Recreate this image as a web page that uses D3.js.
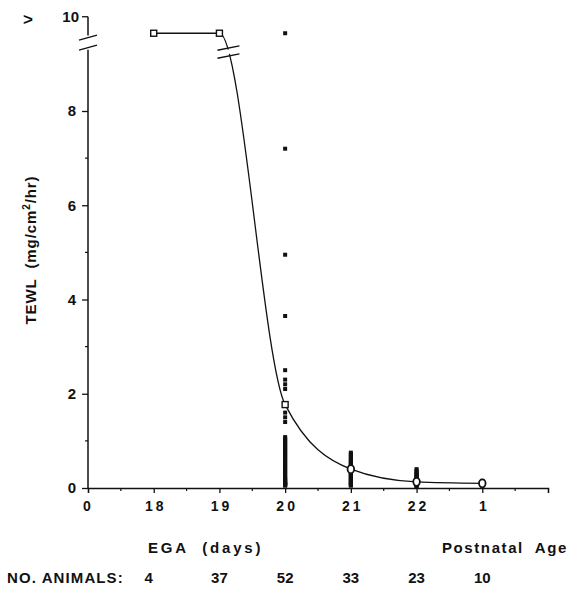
<!DOCTYPE html>
<html>
<head>
<meta charset="utf-8">
<script src="https://cdn.jsdelivr.net/npm/d3@7"></script>
<style>
  html, body { margin: 0; padding: 0; background: #fff; }
  svg { display: block; }
  text { font-family: "Liberation Sans", Arial, Helvetica, sans-serif; fill: #111; }
</style>
</head>
<body>
<div id="chart"></div>
<script>
// ---- data ----
const xTickLabels = ["0", "18", "19", "20", "21", "22", "1"];
const groupLabels = ["18", "19", "20", "21", "22", "1"];
const groupPos = [1, 2, 3, 4, 5, 6];
const meanTEWL = [9.65, 9.65, 1.77, 0.4, 0.13, 0.1];
const meanShape = ["square", "square", "square", "circle", "circle", "circle"];
const nAnimals = ["4", "37", "52", "33", "23", "10"];
const yTicks = [0, 2, 4, 6, 8];
const indiv20 = [9.65, 7.2, 4.95, 3.65, 2.5, 2.3, 2.2, 2.1, 1.6, 1.5, 1.4,
  1.08, 1.05, 1.02, 0.99, 0.96, 0.93, 0.9, 0.87, 0.84, 0.81, 0.78, 0.75, 0.72, 0.69,
  0.66, 0.63, 0.6, 0.57, 0.54, 0.51, 0.48, 0.45, 0.42, 0.39, 0.36, 0.33, 0.3, 0.27,
  0.24, 0.21, 0.19, 0.17, 0.15, 0.13, 0.11, 0.1, 0.09, 0.08, 0.07, 0.06, 0.05];
const indiv21 = [0.75, 0.72, 0.69, 0.66, 0.63, 0.6, 0.57, 0.55, 0.52, 0.5, 0.48,
  0.45, 0.43, 0.41, 0.39, 0.37, 0.35, 0.33, 0.31, 0.29, 0.27, 0.25, 0.23, 0.21,
  0.19, 0.17, 0.15, 0.13, 0.11, 0.09, 0.08, 0.06, 0.05];
const indiv22 = [0.4, 0.37, 0.34, 0.31, 0.29, 0.27, 0.25, 0.23, 0.21, 0.19, 0.17,
  0.16, 0.15, 0.14, 0.13, 0.12, 0.11, 0.1, 0.09, 0.08, 0.06, 0.04, 0.02];
const indivP1 = [0.15, 0.14, 0.13, 0.12, 0.11, 0.1, 0.09, 0.08, 0.07, 0.06];

// ---- layout ----
const W = 571, H = 600;
const svg = d3.select("#chart").append("svg").attr("width", W).attr("height", H);
const x = d3.scaleLinear().domain([0, 7]).range([88, 548]);
const y = d3.scaleLinear().domain([0, 8]).range([488, 111]);

// axes
const xAxis = d3.axisBottom(x).tickValues(d3.range(0, 7.01, 1)).tickSize(5)
  .tickFormat((d) => xTickLabels[d] !== undefined ? xTickLabels[d] : "");
const gx = svg.append("g").attr("transform", `translate(0,${y(0)})`).call(xAxis);
gx.select(".domain").attr("stroke", "#111").attr("stroke-width", 1.3);
gx.selectAll(".tick line").attr("stroke", "#111").attr("stroke-width", 1.3);
gx.selectAll(".tick text").attr("dy", "1.1em").attr("font-size", 14).attr("font-weight", "bold")
  .attr("letter-spacing", "3px").attr("dx", (d) => d === 0 ? 0 : 1.5);
// minor x ticks
svg.append("g").selectAll("line").data(d3.range(0.5, 7, 1)).join("line")
  .attr("x1", (d) => x(d)).attr("x2", (d) => x(d))
  .attr("y1", y(0)).attr("y2", y(0) + 3).attr("stroke", "#111").attr("stroke-width", 1.2);

const yAxis = d3.axisLeft(y).tickValues(yTicks).tickSize(6).tickFormat(d3.format("d"));
const gy = svg.append("g").attr("transform", `translate(${x(0)},0)`).call(yAxis);
gy.select(".domain").remove();
gy.selectAll(".tick line").attr("stroke", "#111").attr("stroke-width", 1.3);
gy.selectAll(".tick text").attr("font-size", 15).attr("font-weight", "bold").attr("dx", "-3px");
// y axis line split by break
const yTop = y(10);
svg.append("line").attr("x1", x(0)).attr("x2", x(0)).attr("y1", y(0)).attr("y2", y(9.3))
  .attr("stroke", "#111").attr("stroke-width", 1.5);
svg.append("line").attr("x1", x(0)).attr("x2", x(0)).attr("y1", y(9.6)).attr("y2", yTop)
  .attr("stroke", "#111").attr("stroke-width", 1.5);
// tick at 10
svg.append("line").attr("x1", x(0) - 6).attr("x2", x(0)).attr("y1", yTop).attr("y2", yTop)
  .attr("stroke", "#111").attr("stroke-width", 1.3);
svg.append("text").attr("x", x(0) - 9).attr("y", yTop).attr("dy", "0.32em")
  .attr("text-anchor", "end").attr("font-size", 15).attr("font-weight", "bold").text("10");
svg.append("text").attr("x", 28).attr("y", yTop + 3).attr("dy", "0.32em")
  .attr("text-anchor", "middle").attr("font-size", 17).attr("font-weight", "bold").text(">");
// minor y ticks
svg.append("g").selectAll("line").data([1, 3, 5, 7]).join("line")
  .attr("x1", x(0) - 3).attr("x2", x(0)).attr("y1", (d) => y(d)).attr("y2", (d) => y(d))
  .attr("stroke", "#111").attr("stroke-width", 1.2);

// break marks
function breakMarks(cx, cy, halfW, gap, slope) {
  const g = svg.append("g");
  [-gap / 2, gap / 2].forEach((o) => {
    g.append("line").attr("x1", cx - halfW).attr("y1", cy + o + halfW * slope)
      .attr("x2", cx + halfW).attr("y2", cy + o - halfW * slope)
      .attr("stroke", "#111").attr("stroke-width", 1.4);
  });
}
breakMarks(x(0), y(9.45), 9, 10, 0.28);

// y-axis title
svg.append("text").attr("transform", `translate(36,${y(5.05)}) rotate(-90)`)
  .attr("text-anchor", "middle").attr("font-size", 15).attr("font-weight", "bold")
  .attr("letter-spacing", "0.9px").attr("xml:space", "preserve")
  .html('TEWL  (mg/cm<tspan dy="-6" font-size="10">2</tspan><tspan dy="6">/hr)</tspan>');

// individual points
const indiv = [[3, indiv20], [4, indiv21], [5, indiv22], [6, indivP1]];
indiv.forEach(([pos, vals]) => {
  svg.append("g").selectAll("rect").data(vals).join("rect")
    .attr("x", x(pos) - 2).attr("y", (d) => y(d) - 2).attr("width", 4).attr("height", 4)
    .attr("fill", "#111");
});

// fitted line through means
const pts = groupPos.map((p, i) => [p, meanTEWL[i]]);
const line = d3.line().x((d) => x(d[0])).y((d) => y(d[1])).curve(d3.curveMonotoneX);
svg.append("path").attr("d", line(pts)).attr("fill", "none").attr("stroke", "#111").attr("stroke-width", 1.3);

// break on the curve: white gap + two slanted marks
const bx = x(2) + 9, by = y(9.25);
svg.append("polygon")
  .attr("points", [[bx - 12, by + 4.5], [bx + 12, by - 0.5], [bx + 12, by - 5], [bx - 12, by]].join(" "))
  .attr("fill", "#fff");
breakMarks(bx, by, 11, 8, 0.2);

// mean markers
pts.forEach((d, i) => {
  if (meanShape[i] === "square") {
    svg.append("rect").attr("x", x(d[0]) - 3).attr("y", y(d[1]) - 3).attr("width", 6).attr("height", 6)
      .attr("fill", "#fff").attr("stroke", "#111").attr("stroke-width", 1.4);
  } else {
    svg.append("ellipse").attr("cx", x(d[0])).attr("cy", y(d[1])).attr("rx", 3.3).attr("ry", 4)
      .attr("fill", "#fff").attr("stroke", "#111").attr("stroke-width", 1.8);
  }
});

// bottom labels
svg.append("text").attr("x", 148).attr("y", 553).attr("font-size", 15).attr("font-weight", "bold")
  .attr("letter-spacing", "2.8px").attr("xml:space", "preserve").text("EGA  (days)");
svg.append("text").attr("x", 568).attr("y", 553).attr("text-anchor", "end").attr("font-size", 15)
  .attr("font-weight", "bold").attr("letter-spacing", "1.6px").attr("xml:space", "preserve").text("Postnatal  Age");
svg.append("text").attr("x", 7).attr("y", 583).attr("font-size", 15).attr("font-weight", "bold")
  .attr("letter-spacing", "1.1px").text("NO. ANIMALS:");
svg.append("g").selectAll("text").data(nAnimals).join("text")
  .attr("x", (d, i) => x(groupPos[i]) - (i === 0 ? 5 : 0)).attr("y", 583).attr("text-anchor", "middle")
  .attr("font-size", 15).attr("font-weight", "bold").text((d) => d);
</script>
</body>
</html>
